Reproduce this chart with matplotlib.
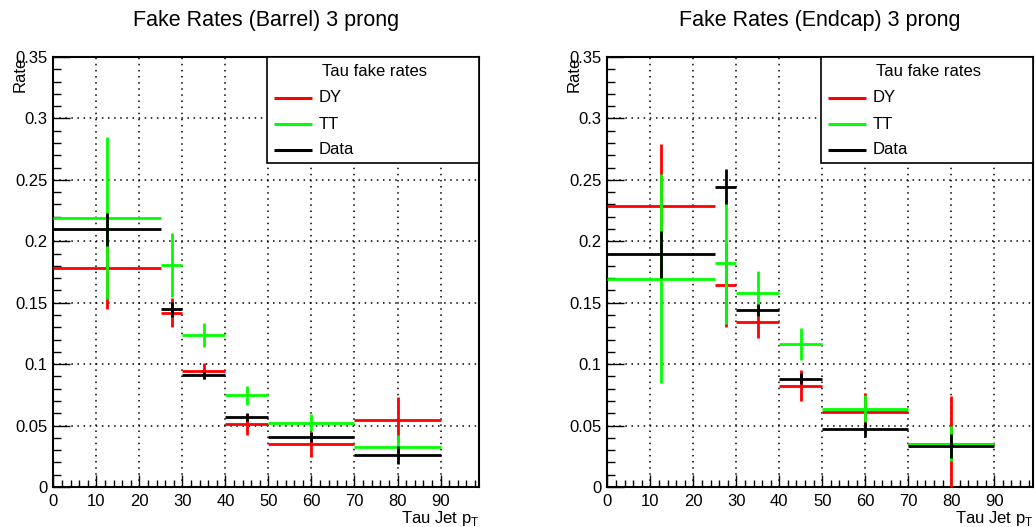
import numpy as np
import matplotlib.pyplot as plt
from matplotlib.patches import Rectangle
from matplotlib.ticker import MultipleLocator

plt.rcParams['font.family'] = ['Liberation Sans', 'DejaVu Sans']

# bin edges in tau jet pT
edges = [0, 25, 30, 40, 50, 70, 90]

# barrel
barrel_dy = [0.178, 0.142, 0.0946, 0.0511, 0.0348, 0.0549]
barrel_dy_err = [0.033, 0.012, 0.0065, 0.0087, 0.010, 0.018]
barrel_tt = [0.219, 0.1807, 0.1236, 0.0745, 0.0522, 0.0326]
barrel_tt_err = [0.066, 0.026, 0.010, 0.0076, 0.007, 0.010]
barrel_data = [0.2098, 0.1446, 0.0908, 0.0571, 0.0408, 0.0261]
barrel_data_err = [0.0135, 0.006, 0.003, 0.0033, 0.0038, 0.007]

# endcap
endcap_dy = [0.2288, 0.1645, 0.134, 0.0826, 0.0609, 0.035]
endcap_dy_err = [0.050, 0.034, 0.0125, 0.0127, 0.016, 0.039]
endcap_tt = [0.1696, 0.1826, 0.1576, 0.1163, 0.0636, 0.0353]
endcap_tt_err = [0.085, 0.050, 0.018, 0.013, 0.011, 0.0144]
endcap_data = [0.1894, 0.2446, 0.1438, 0.0883, 0.047, 0.0334]
endcap_data_err = [0.019, 0.014, 0.005, 0.0045, 0.006, 0.010]

legend_labels = ['DY', 'TT', 'Data']

RED = '#ff0000'
GREEN = '#00ff00'
BLACK = '#000000'


def drawLegend(ax, colors):
    # ROOT style TLegend box in the top right corner
    tr = ax.transAxes
    ax.add_patch(Rectangle((0.501, 0.7535), 0.499, 0.2465, transform=tr,
                           facecolor='white', edgecolor='black', lw=1.2,
                           zorder=5, clip_on=False))
    ax.text(0.755, 0.966, 'Tau fake rates', transform=tr, ha='center',
            va='center', fontsize=12, zorder=6)
    rows = [0.905, 0.844, 0.784]
    for y, col, lab in zip(rows, colors, legend_labels):
        ax.plot([0.518, 0.607], [y, y], color=col, lw=2.2, transform=tr,
                zorder=6, solid_capstyle='butt', clip_on=False)
        ax.text(0.624, y, lab, transform=tr, ha='left', va='center',
                fontsize=12, zorder=6)


def drawPanel(ax, title, series):
    e = np.array(edges, dtype=float)
    centers = 0.5 * (e[1:] + e[:-1])
    halfw = 0.5 * (e[1:] - e[:-1])
    for vals, errs, col in series:
        ax.errorbar(centers, vals, yerr=errs, xerr=halfw, fmt='none',
                    ecolor=col, elinewidth=2.0, capsize=0, zorder=3)

    ax.set_xlim(0, 99)
    ax.set_ylim(0, 0.35)
    ax.xaxis.set_minor_locator(MultipleLocator(2))
    ax.yaxis.set_minor_locator(MultipleLocator(0.01))
    ax.set_xticks(np.arange(0, 91, 10))
    ax.set_xticklabels([str(v) for v in range(0, 91, 10)])
    ax.set_yticks(np.arange(0, 0.351, 0.05))
    ax.set_yticklabels(['0', '0.05', '0.1', '0.15', '0.2', '0.25', '0.3', '0.35'])
    ax.tick_params(which='major', direction='in', length=12, width=1,
                   labelsize=12, pad=4)
    ax.tick_params(which='minor', direction='in', length=6, width=1)
    ax.tick_params(axis='x', which='major', length=9, pad=5)
    ax.tick_params(axis='x', which='minor', length=5)
    ax.grid(True, which='major', color='black', linestyle=(0, (1, 3)),
            linewidth=1.1)
    for s in ax.spines.values():
        s.set_linewidth(1.5)

    ax.set_title(title, fontsize=15.5, pad=22)
    ax.set_xlabel('Tau Jet p$_\\mathregular{T}$', fontsize=12, ha='right',
                  x=1.0, labelpad=0)
    ax.set_ylabel('Rate', fontsize=12, ha='right', y=1.0, labelpad=-9)

    drawLegend(ax, [s[2] for s in series])


fig = plt.figure(figsize=(10.36, 5.27), dpi=100)
ax1 = fig.add_axes([0.0515, 0.0759, 0.4111, 0.8159])
ax2 = fig.add_axes([0.5862, 0.0759, 0.4109, 0.8159])

drawPanel(ax1, 'Fake Rates (Barrel) 3 prong',
          [(barrel_dy, barrel_dy_err, RED),
           (barrel_tt, barrel_tt_err, GREEN),
           (barrel_data, barrel_data_err, BLACK)])
drawPanel(ax2, 'Fake Rates (Endcap) 3 prong',
          [(endcap_dy, endcap_dy_err, RED),
           (endcap_tt, endcap_tt_err, GREEN),
           (endcap_data, endcap_data_err, BLACK)])

fig.savefig('out.png', dpi=100)
